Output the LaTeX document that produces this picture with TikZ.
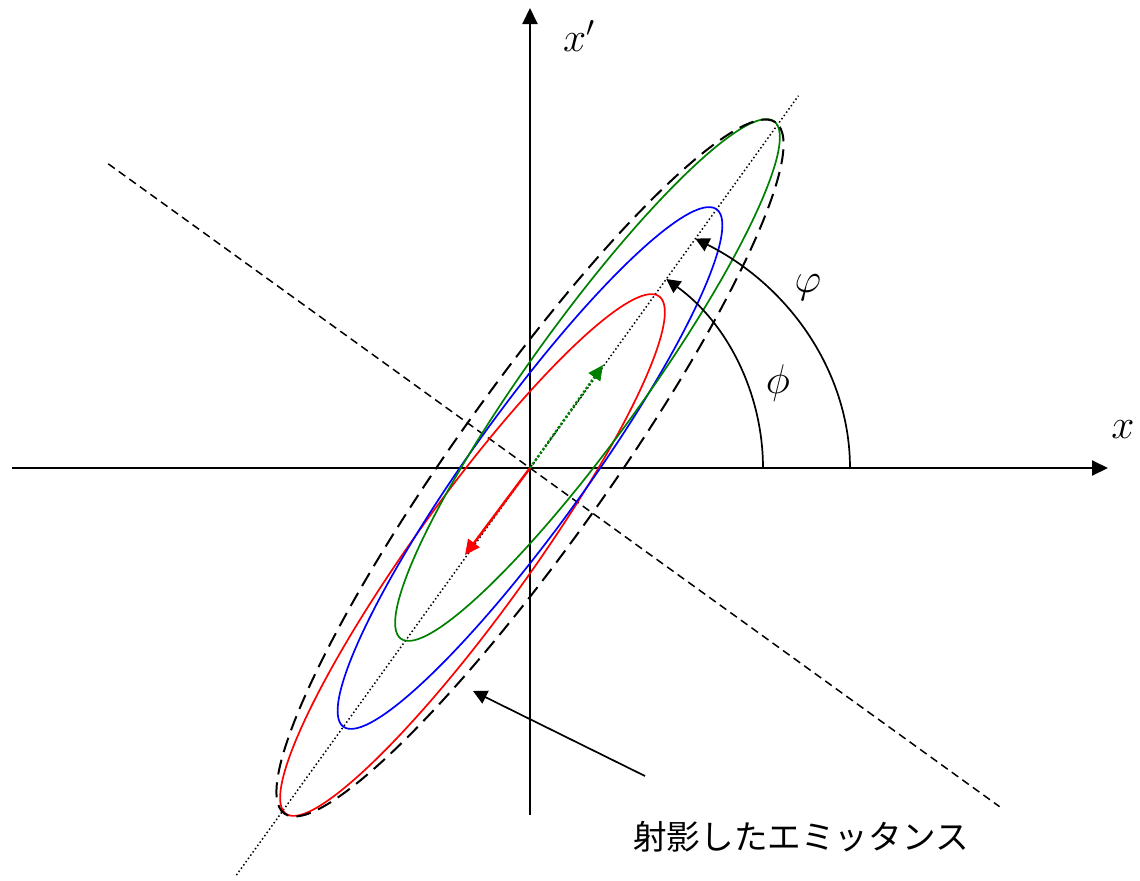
\documentclass[tikz,border=0pt]{standalone}
\usepackage{fontspec}
\usepackage{tikz}
\usetikzlibrary{arrows.meta,calc,positioning}
\newfontfamily\jpfont{Noto Sans CJK JP}
\definecolor{redline}{RGB}{255,0,0}
\definecolor{blueline}{RGB}{0,0,255}
\definecolor{greenline}{RGB}{0,128,0}

\begin{document}
\begin{tikzpicture}[x=0.5pt, y=0.5pt,
  axis/.style={line width=1pt, -{Triangle[length=8pt, width=7.5pt]}},
  ell/.style={line width=0.85pt, rotate=54.2},
  env/.style={line width=1pt, dash pattern=on 7.5pt off 4pt, rotate=54.6},
  pointer/.style={line width=0.85pt, -{Triangle[length=7pt, width=7pt]}},
  shiftarrow/.style={line width=1.2pt, -{Triangle[length=7.5pt, width=7pt]}},
  lab/.style={font=\fontsize{21}{25}\selectfont, inner sep=0pt},
]
  \useasboundingbox (-530,-412) rectangle (610,468);

  % Axes
  \coordinate (O) at (0,0);
  \coordinate (xa) at (-518,0);
  \coordinate (xb) at (578,0);
  \coordinate (ya) at (0,-347);
  \coordinate (yb) at (0,460);
  \draw[axis] (xa) -- (xb);
  \draw[axis] (ya) -- (yb);
  \node[lab] (xlab) at (593,38) {$x$};
  \node[lab] (xplab) at (49,432) {$x'$};

  % Principal directions
  \coordinate (pa) at (144.2:520);
  \coordinate (pb) at (-35.8:579);
  \coordinate (ma) at (234.2:502);
  \coordinate (mb) at (54.2:459);
  \draw[line width=0.75pt, dash pattern=on 4pt off 2.5pt] (pa) -- (pb);
  \draw[line width=0.75pt, dash pattern=on 0.75pt off 1.25pt] (ma) -- (mb);

  % Emittance ellipses
  \coordinate (redc) at (-57.5,-87);
  \coordinate (grnc) at (57.5,88);
  \draw[ell, redline] (redc) ellipse[x radius=319, y radius=57.5];
  \draw[ell, blueline] (O) ellipse[x radius=319, y radius=57.5];
  \draw[ell, greenline] (grnc) ellipse[x radius=319, y radius=57.5];
  \draw[env] (O) ellipse[x radius=424, y radius=77];

  % Centroid shifts
  \coordinate (redtip) at (-65,-87);
  \coordinate (grntip) at (73,103);
  \draw[shiftarrow, redline] (O) -- (redtip);
  \draw[shiftarrow, greenline, densely dotted] (O) -- (grntip);

  % Angles
  \draw[pointer] (233,0) arc[start angle=0, end angle=54.2, radius=233];
  \draw[pointer] (320,0) arc[start angle=0, end angle=58.9, x radius=320, y radius=268];
  \node[lab] (philab) at (248,85) {$\phi$};
  \node[lab] (vphilab) at (278,180) {$\varphi$};

  % Projected emittance
  \node[font=\jpfont\fontsize{16.8}{20}\selectfont, inner sep=0pt] (emit) at (271,-369) {射影したエミッタンス};
  \coordinate (emtail) at (115,-308);
  \coordinate (emtip) at (-57,-223);
  \draw[pointer] (emtail) -- (emtip);
\end{tikzpicture}
\end{document}
